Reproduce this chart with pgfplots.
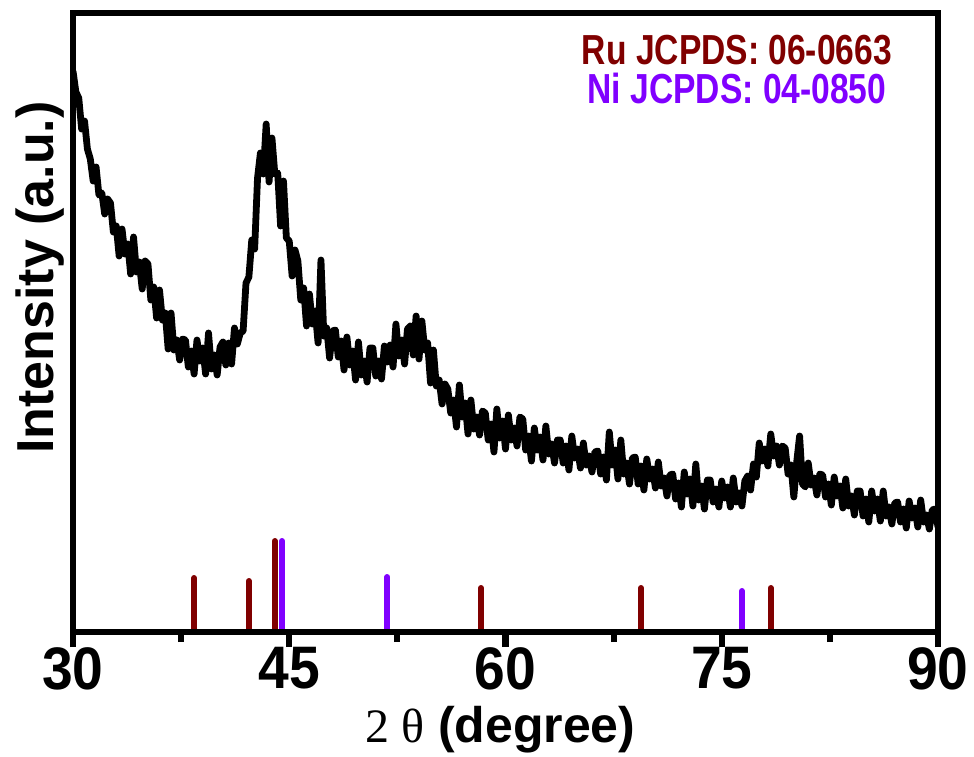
\documentclass[border=0pt]{standalone}
\usepackage{fontspec}
\setmainfont{Liberation Sans}
\newfontfamily\seriffont{Liberation Serif}
\newfontfamily\tickfont[FakeStretch=0.92]{Liberation Sans}
\newfontfamily\legfont[FakeStretch=0.8]{Liberation Sans}
\usepackage{pgfplots}
\pgfplotsset{compat=1.18}
\definecolor{rucol}{RGB}{128,0,0}
\definecolor{nicol}{RGB}{128,0,255}
\begin{document}
\begin{tikzpicture}
\useasboundingbox (-36.5pt,-62pt) rectangle (450.5pt,316pt);
\begin{axis}[at={(0,0)}, anchor=south west, scale only axis,
  width=432.5pt, height=309.5pt,
  xmin=30, xmax=90, ymin=0, ymax=619,
  xtick={30,45,60,75,90}, minor x tick num=1, ytick=\empty,
  xtick pos=bottom, tick align=outside,
  major tick length=7.5pt, minor tick length=5pt,
  every tick/.style={line width=3pt, black},
  separate axis lines,
  axis line style={line width=3.2pt, line cap=rect},
  axis on top,
  /pgf/number format/assume math mode=true,
  xticklabel style={font=\tickfont\bfseries\fontsize{30}{30}\selectfont, inner sep=0pt, anchor=north},
  xlabel={{\seriffont\mdseries\fontsize{24}{24}\selectfont 2 θ} (degree)},
  xlabel style={font=\bfseries\fontsize{25}{25}\selectfont, at={(axis description cs:0.494,-0.1777)}, anchor=base, inner sep=0pt},
  ylabel={Intensity (a.u.)},
  ylabel style={font=\bfseries\fontsize{26}{26}\selectfont, at={(axis description cs:-0.0231,0.5727)}, anchor=base, inner sep=0pt},
]
\addplot[ycomb, rucol, line width=3pt, line cap=round, mark=none] coordinates {
(38.4,54)(42.2,51)(44.0,91)(58.3,44)(69.4,44)(78.4,44)};
\addplot[ycomb, nicol, line width=3pt, line cap=round, mark=none] coordinates {
(44.5,91)(51.8,55)(76.4,41)};
\addplot[black, line width=3.4pt, line join=round, mark=none] coordinates {
(30.0,561)(30.2,540)(30.4,534)(30.6,503)(30.8,511)(31.0,483)(31.2,473)(31.4,451)(31.6,465)(31.8,437)(32.0,439)(32.2,418)(32.4,433)(32.6,429)(32.8,400)(33.0,406)(33.2,376)(33.4,403)(33.6,378)(33.8,388)(34.0,358)(34.2,395)(34.4,360)(34.6,370)(34.8,343)(35.0,371)(35.2,368)(35.4,332)(35.6,345)(35.8,314)(36.0,342)(36.2,312)(36.4,319)(36.6,283)(36.8,319)(37.0,282)(37.2,292)(37.4,272)(37.6,293)(37.8,292)(38.0,265)(38.2,281)(38.4,258)(38.6,292)(38.8,271)(39.0,284)(39.2,258)(39.4,299)(39.6,263)(39.8,277)(40.0,257)(40.2,285)(40.4,290)(40.6,267)(40.8,289)(41.0,268)(41.2,304)(41.4,288)(41.6,299)(41.8,301)(42.0,349)(42.2,355)(42.4,392)(42.6,383)(42.8,454)(43.0,479)(43.2,458)(43.4,508)(43.6,450)(43.8,494)(44.0,458)(44.2,459)(44.4,406)(44.6,451)(44.8,394)(45.0,391)(45.2,356)(45.4,382)(45.6,371)(45.8,332)(46.0,344)(46.2,306)(46.4,338)(46.6,308)(46.8,321)(47.0,289)(47.2,372)(47.4,296)(47.6,304)(47.8,274)(48.0,301)(48.2,302)(48.4,275)(48.6,291)(48.8,262)(49.0,295)(49.2,267)(49.4,281)(49.6,252)(49.8,290)(50.0,257)(50.2,271)(50.4,250)(50.6,284)(50.8,284)(51.0,256)(51.2,271)(51.4,253)(51.6,286)(51.8,270)(52.0,287)(52.2,265)(52.4,308)(52.6,276)(52.8,292)(53.0,268)(53.2,303)(53.4,306)(53.6,277)(53.8,316)(54.0,273)(54.2,311)(54.4,282)(54.6,289)(54.8,249)(55.0,282)(55.2,246)(55.4,252)(55.6,228)(55.8,248)(56.0,243)(56.2,219)(56.4,232)(56.6,205)(56.8,247)(57.0,215)(57.2,229)(57.4,198)(57.6,232)(57.8,203)(58.0,215)(58.2,197)(58.4,221)(58.6,219)(58.8,192)(59.0,208)(59.2,180)(59.4,223)(59.6,194)(59.8,211)(60.0,183)(60.2,217)(60.4,192)(60.6,204)(60.8,186)(61.0,215)(61.2,213)(61.4,182)(61.6,196)(61.8,171)(62.0,204)(62.2,182)(62.4,195)(62.6,172)(62.8,206)(63.0,178)(63.2,188)(63.4,169)(63.6,192)(63.8,192)(64.0,169)(64.2,186)(64.4,162)(64.6,196)(64.8,174)(65.0,183)(65.2,164)(65.4,189)(65.6,167)(65.8,176)(66.0,160)(66.2,180)(66.4,181)(66.6,158)(66.8,175)(67.0,152)(67.2,200)(67.4,167)(67.6,182)(67.8,153)(68.0,192)(68.2,158)(68.4,169)(68.6,148)(68.8,174)(69.0,175)(69.2,148)(69.4,166)(69.6,142)(69.8,173)(70.0,153)(70.2,163)(70.4,144)(70.6,170)(70.8,146)(71.0,154)(71.2,136)(71.4,157)(71.6,158)(71.8,133)(72.0,149)(72.2,125)(72.4,160)(72.6,138)(72.8,153)(73.0,126)(73.2,168)(73.4,132)(73.6,146)(73.8,123)(74.0,152)(74.2,152)(74.4,130)(74.6,143)(74.8,125)(75.0,151)(75.2,134)(75.4,145)(75.6,125)(75.8,154)(76.0,130)(76.2,139)(76.4,126)(76.6,151)(76.8,156)(77.0,142)(77.2,168)(77.4,155)(77.6,189)(77.8,171)(78.0,183)(78.2,166)(78.4,198)(78.6,176)(78.8,186)(79.0,167)(79.2,186)(79.4,184)(79.6,158)(79.8,167)(80.0,135)(80.2,170)(80.4,196)(80.6,148)(80.8,145)(81.0,169)(81.2,147)(81.4,154)(81.6,137)(81.8,158)(82.0,157)(82.2,135)(82.4,148)(82.6,127)(82.8,155)(83.0,136)(83.2,146)(83.4,124)(83.6,153)(83.8,126)(84.0,136)(84.2,117)(84.4,141)(84.6,141)(84.8,116)(85.0,133)(85.2,110)(85.4,141)(85.6,121)(85.8,133)(86.0,111)(86.2,141)(86.4,116)(86.6,125)(86.8,108)(87.0,129)(87.2,130)(87.4,110)(87.6,123)(87.8,104)(88.0,131)(88.2,114)(88.4,124)(88.6,105)(88.8,132)(89.0,110)(89.2,117)(89.4,103)(89.6,122)(89.8,123)(90.0,105)};
\node[font=\legfont\bfseries\fontsize{21}{21}\selectfont, text=rucol, anchor=base, inner sep=0pt] at (axis description cs:0.7676,0.9160) {Ru JCPDS: 06-0663};
\node[font=\legfont\bfseries\fontsize{21}{21}\selectfont, text=nicol, anchor=base, inner sep=0pt] at (axis description cs:0.7676,0.8546) {Ni JCPDS: 04-0850};
\end{axis}
\end{tikzpicture}
\end{document}
